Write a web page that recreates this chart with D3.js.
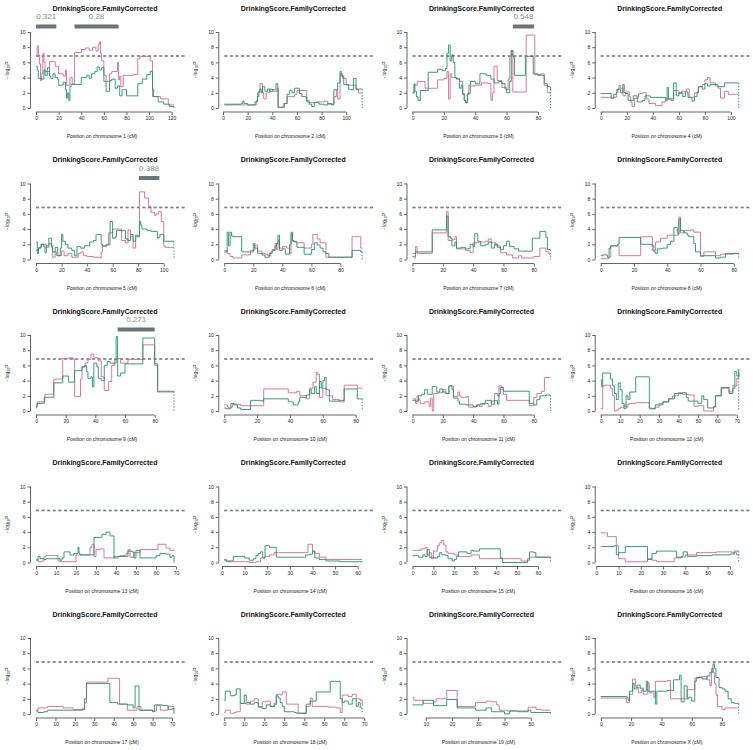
<!DOCTYPE html>
<html><head><meta charset="utf-8">
<script src="https://cdn.jsdelivr.net/npm/d3@7"></script>
<style>body{margin:0;background:#fff} svg{display:block}</style>
</head><body><svg id="c" width="753" height="750"></svg>
<script>
const chartTitle = "DrinkingScore.FamilyCorrected";
const chromosomes = ["1","2","3","4","5","6","7","8","9","10","11","12","13","14","15","16","17","18","19","X"];
const yTicks = [0,2,4,6,8,10];
const threshold = 6.84;
const xTicks = [
  [0,20,40,60,80,100,120],[0,20,40,60,80,100],[0,20,40,60,80],[0,20,40,60,80,100],
  [0,20,40,60,80,100],[0,20,40,60,80],[0,20,40,60,80],[0,20,40,60,80],
  [0,20,40,60,80],[0,20,40,60,80],[0,20,40,60,80],[0,10,20,30,40,50,60,70],
  [0,10,20,30,40,50,60,70],[0,10,20,30,40,50,60],[0,10,20,30,40,50,60],[0,10,20,30,40,50,60],
  [0,10,20,30,40,50,60,70],[0,10,20,30,40,50,60,70],[10,20,30,40,50],[0,20,40,60,80]
];
const supportBars = [
  {chr:"1", from:0, to:18, label:"0.321"},
  {chr:"1", from:34, to:73, label:"0.28"},
  {chr:"3", from:64, to:77.5, label:"0.548"},
  {chr:"5", from:80.5, to:96.5, label:"0.388"},
  {chr:"9", from:55, to:80, label:"0.271"}
];
const pinkSeries = [
 [[0,6.8],[1,8.2],[2,7.0],[3,5.8],[4,3.6],[5,4.5],[6,7.2],[7,6.0],[8,4.8],[12,6.1],[17,5.5],[20,4.5],[24,4.2],[26,5.0],[27,3.0],[30,4.0],[32,3.2],[34,7.3],[40,7.7],[44,7.9],[47,7.6],[50,8.0],[53,7.5],[55,8.3],[56,8.7],[57,7.2],[58,6.2],[60,4.3],[62,3.5],[65,4.5],[67,4.8],[72,6.0],[73,3.7],[74,4.2],[75,2.8],[77,4.3],[86,4.4],[90,6.5],[92,6.8],[101,6.2],[103,1.5],[110,1.2],[117,0.4],[122,0.4]],
 [[1,0.4],[27,1.0],[28,2.0],[30,3.2],[32,2.0],[33,1.2],[35,2.0],[38,2.5],[40,2.2],[44,2.6],[45,0.1],[49,0.6],[52,1.5],[58,1.8],[60,2.3],[68,1.0],[70,0.7],[75,0.8],[82,0.9],[85,0.5],[90,1.5],[92,2.3],[93,1.2],[95,4.5],[97,3.9],[100,3.0],[108,2.5],[110,2.0],[113,2.0]],
 [[0,2.0],[1,3.0],[3,3.5],[8,2.6],[16,3.7],[20,3.9],[22,4.8],[23,1.2],[24,4.5],[25,4.0],[28,3.9],[30,3.5],[32,1.9],[33,1.0],[34,0.7],[35,1.9],[37,2.9],[40,3.0],[44,3.3],[48,3.2],[50,1.0],[51,2.0],[52,5.5],[54,3.6],[57,2.7],[60,2.4],[61,3.8],[62,6.8],[63,7.5],[64,2.1],[72.5,9.6],[78,4.4],[82,4.5],[84,3.0],[86,2.0],[88,2.0]],
 [[0,1.4],[8,1.3],[10,1.4],[12,2.4],[14,3.0],[15,2.6],[17,1.6],[19,2.1],[22,1.5],[23,0.8],[24,0.2],[26,1.3],[29,1.9],[32,2.0],[35,1.2],[37,0.6],[42,0.3],[47,0.8],[50,1.2],[54,1.0],[56,2.3],[60,1.9],[62,2.2],[66,2.5],[68,1.4],[72,2.0],[75,2.8],[78,3.1],[80,3.7],[82,4.0],[84,3.3],[88,2.9],[90,2.6],[92,1.3],[95,2.2],[98,1.8],[106,1.8]],
 [[0,1.2],[2,1.6],[4,2.0],[8,1.6],[10,2.1],[12,1.8],[13,0.3],[15,1.0],[16,0.5],[20,1.1],[22,0.5],[25,0.8],[28,0.3],[33,0.8],[35,1.0],[37,0.5],[40,0.4],[45,0.3],[50,0.2],[51,1.0],[52,1.7],[55,1.9],[58,3.5],[60,4.0],[67,2.5],[70,2.2],[72,3.9],[74,3.0],[76,1.5],[78,3.0],[81,8.9],[85,8.1],[88,7.0],[90,6.2],[93,5.8],[94,6.0],[96,6.3],[98,5.0],[100,1.8],[101,1.6],[108,1.6]],
 [[0,1.2],[2,0.8],[4,0.4],[6,0.2],[12,0.6],[18,1.2],[21,1.9],[23,1.1],[26,0.8],[28,0.7],[30,0.5],[32,1.0],[33,1.3],[35,2.1],[36,1.3],[37,2.5],[38,1.5],[40,1.7],[43,1.5],[45,0.8],[46,3.4],[47,2.4],[50,2.2],[55,1.5],[60,2.0],[61,3.3],[64,2.7],[66,2.2],[70,0.3],[88,3.0],[94,1.5],[95,1.5]],
 [[0,0.8],[2,1.7],[3,0.8],[13,3.5],[22.5,6.3],[23.5,2.5],[26,2.6],[28,3.0],[29,1.4],[35,1.2],[38,0.9],[40,2.2],[43,2.3],[48,2.4],[50,2.7],[52,2.2],[55,1.8],[58,0.9],[62,0.6],[66,0.2],[70,0.5],[72,0.2],[80,0.4],[84,1.5],[88,1.0],[90,0.7],[91,0.7]],
 [[0,0.1],[5,0.3],[6,1.8],[9,1.8],[11,0.5],[24,3.0],[31,1.2],[33,2.3],[36,2.8],[40,3.2],[47,5.6],[48,3.5],[50,3.8],[54,3.9],[56,3.6],[60,0.4],[62,1.0],[69,0.5],[72,0.7],[80,0.8],[83,0.8]],
 [[0,0.6],[1,1.2],[6,2.2],[12,4.2],[18,6.9],[22,7.0],[25,6.8],[26,1.9],[30,4.2],[31,5.8],[33,6.3],[35,6.8],[37,7.5],[39,7.0],[42,6.6],[44,4.5],[46,2.7],[49,3.9],[51,6.0],[53,6.8],[55,6.9],[57,6.3],[62,6.8],[72,8.7],[80,6.0],[82,2.5],[93,2.5]],
 [[0,0.8],[2,0.5],[5,0.9],[10,0.7],[17,0.7],[24,2.9],[39,2.4],[44,2.6],[46,2.0],[50,1.6],[52,3.0],[54,3.8],[56,5.1],[57,4.8],[58,1.8],[60,3.0],[62,2.0],[66,1.5],[70,1.2],[73,3.4],[81,3.0],[84,3.0]],
 [[0,1.6],[2,1.0],[3,2.0],[4,1.5],[5,1.0],[8,1.2],[11,0.6],[12,1.7],[13,0.0],[14,2.3],[17,2.4],[20,2.8],[22,2.3],[24,3.3],[27,1.9],[30,2.5],[31,2.0],[32,1.8],[36,1.9],[37,0.5],[42,0.8],[44,0.6],[46,0.9],[48,1.0],[50,0.6],[52,1.3],[54,2.3],[56,2.0],[57,3.3],[59,2.8],[60,2.2],[62,1.4],[77,0.7],[80,1.8],[82,2.3],[85,2.6],[87,4.4],[91,4.4]],
 [[0,0.3],[1,3.3],[2,3.4],[5,3.0],[6,2.0],[7,0.0],[8,0.1],[9,0.3],[10,0.5],[12,0.8],[13,0.5],[14,0.9],[15,1.0],[18,1.1],[25,0.3],[28,0.5],[30,1.0],[32,1.2],[35,1.6],[37,2.0],[40,2.4],[42,2.2],[45,2.1],[48,0.6],[50,0.7],[53,0.0],[55,0.0],[58,0.6],[59,2.0],[62,3.0],[66,2.5],[68,3.3],[70,4.3],[71,5.0]],
 [[0,0.4],[1,0.1],[3,0.2],[4,0.8],[5,0.9],[11,0.2],[12,0.1],[18,0.1],[20,1.0],[27,2.0],[28,2.4],[29,0.8],[30,1.7],[32,1.8],[34,0.6],[39,0.8],[42,0.9],[45,1.2],[46,1.7],[47,0.7],[49,1.3],[52,1.7],[61,2.4],[65,1.9],[67,1.6],[69,1.7]],
 [[1,0.4],[2,0.1],[12,0.0],[15,0.1],[17,0.6],[19,0.8],[21,1.0],[23,1.3],[37,1.3],[38,2.4],[40,1.5],[41,1.2],[43,0.7],[46,0.4],[62,0.4]],
 [[0,1.6],[4,1.8],[6,2.0],[7,1.0],[8,1.3],[9,0.5],[10,1.5],[12,2.2],[13,2.6],[14,2.9],[15,2.3],[16,1.4],[17,1.2],[20,1.0],[22,0.8],[28,1.0],[32,0.5],[43,0.5],[52,0.2],[55,0.5],[56,0.7],[66,0.7]],
 [[2,3.9],[5,3.4],[9,2.2],[10,0.5],[13,0.1],[23,0.5],[25,0.3],[27,0.1],[35,0.6],[38,0.7],[40,1.0],[45,1.3],[54,1.4],[61,1.3],[63,1.0],[64,1.0]],
 [[0,0.5],[1,0.8],[6,1.0],[14,0.8],[19,0.6],[24,0.7],[25,1.5],[26,4.2],[37,4.7],[43,1.3],[47,0.5],[52,1.0],[54,0.5],[60,0.4],[62,1.1],[64,0.5],[68,1.0],[70,1.0],[71,0.5]],
 [[0,0.2],[0.5,0.5],[3,0.1],[5,0.2],[6,0.3],[8,1.4],[11,1.3],[13,1.7],[15,2.0],[17,1.0],[19,1.6],[21,1.7],[23,1.0],[25,1.4],[26,2.6],[28,2.5],[29,2.9],[31,1.3],[37,0.1],[41,1.0],[43,2.1],[44,1.0],[52,0.9],[56,0.8],[58,0.2],[59,2.5],[62,2.3],[64,2.6],[66,2.0],[68,1.8],[69,1.0]],
 [[5,2.2],[5.5,1.8],[9,1.4],[13,1.6],[14,2.0],[18,3.1],[22,1.0],[29,1.5],[33,1.7],[35,1.6],[37,1.2],[38,0.5],[41,0.4],[49,0.9],[52,0.6],[54,0.5],[57.5,0.5]],
 [[0,2.1],[17,1.5],[19,2.6],[21,4.6],[23,3.5],[25,2.8],[27,3.2],[28,2.6],[31,4.1],[32,2.8],[35,2.2],[36,4.3],[44,4.4],[46,2.0],[57,3.2],[62,4.7],[65,4.9],[70,4.5],[72,3.7],[73,6.0],[74,5.5],[75,4.0],[76,2.5],[77,1.0],[80,0.6],[82,0.8],[88,0.8],[91,0.8]]
];
const greenSeries = [
 [[0,5.5],[1,5.0],[2,3.9],[5,3.8],[7,5.0],[8,4.3],[10,5.3],[12,4.2],[13,3.9],[15,4.5],[17,4.0],[19,3.8],[20,3.0],[24,3.4],[26,2.4],[27,1.3],[28,2.0],[29,1.0],[30,2.8],[31,3.1],[40,4.0],[45,4.3],[47,3.9],[49,4.5],[52,4.8],[54,5.4],[56,5.0],[58,5.3],[60,3.5],[62,2.2],[65,3.6],[67,3.8],[70,2.6],[72,2.9],[74,1.6],[76,2.4],[80,1.6],[90,3.2],[94,3.8],[98,4.4],[101,4.8],[103,2.5],[104,1.5],[108,0.8],[113,0.5],[118,0.2],[122,0.2]],
 [[1,0.5],[15,0.6],[16,0.9],[17,0.6],[20,0.4],[26,0.8],[28,1.5],[29,2.2],[30,2.5],[31,2.0],[32,2.8],[34,2.2],[36,2.5],[38,2.2],[40,2.4],[43,3.2],[44.5,0.1],[50,0.6],[52,1.8],[54,2.3],[56,2.0],[58,2.6],[62,1.9],[64,1.5],[67,1.4],[68,0.8],[70,0.5],[72,0.2],[74,0.7],[78,0.5],[82,0.4],[85,0.6],[88,0.4],[90,2.4],[93,3.3],[95,4.8],[96,4.2],[98,3.1],[102,2.4],[106,3.9],[108,2.4],[110,2.5],[113,2.5]],
 [[0,2.0],[1,3.2],[1.5,2.2],[2.5,1.5],[3.5,1.0],[5,2.3],[10,4.7],[16,5.1],[19,4.9],[21,5.2],[22,7.2],[23,8.3],[24,6.2],[25,7.0],[26,6.0],[27,4.0],[28,3.8],[30,2.6],[31,3.0],[32,1.8],[33,1.0],[34,0.7],[35,1.8],[36,3.0],[37,3.5],[40,3.2],[43,4.5],[47,4.3],[50,3.8],[52,3.3],[55,3.5],[57,3.2],[59,2.5],[60,2.0],[62,3.5],[63,7.6],[64,6.8],[65,4.3],[72,6.8],[77,4.5],[80,4.3],[84,3.2],[86,2.8],[88,2.5]],
 [[0,1.9],[8,1.3],[10,1.8],[12,2.0],[13,2.5],[15,2.0],[17,3.1],[18,2.0],[19,1.9],[21,1.0],[25,1.6],[28,0.8],[32,1.0],[34,1.6],[38,1.4],[50,1.0],[51,2.7],[52,1.2],[56,3.3],[58,1.6],[60,2.0],[63,1.5],[65,2.1],[67,1.4],[70,0.9],[72,1.5],[74,2.1],[75,2.8],[78,2.5],[80,3.2],[82,2.9],[84,3.1],[90,2.8],[95,3.3],[106,3.3]],
 [[0,2.3],[1,0.8],[2,1.5],[4,2.0],[6,1.7],[7,0.9],[8,1.8],[10,2.8],[12,1.6],[13,1.0],[15,1.6],[17,0.5],[19,1.5],[20,3.3],[21,2.4],[23,2.0],[25,1.5],[28,1.2],[30,0.5],[32,1.7],[35,1.5],[38,1.8],[42,2.3],[45,2.5],[47,3.3],[51,2.0],[52,1.8],[55,2.0],[57,3.5],[58,5.0],[60,2.8],[62,3.0],[63,3.8],[70,2.7],[72,2.5],[74,3.3],[76,2.4],[78,3.2],[80,3.0],[81,5.0],[82,4.5],[83,4.0],[87,3.8],[90,3.7],[95,2.8],[96,2.9],[97,3.3],[100,2.4],[108,2.4]],
 [[0,1.0],[2,3.6],[3,1.8],[4,3.6],[5,3.1],[6,3.0],[12,1.0],[18,1.0],[20,2.1],[21,1.5],[23,0.8],[26,0.6],[28,0.3],[31,0.8],[33,1.2],[35,1.8],[36,2.1],[37,3.2],[38,1.2],[40,1.4],[42,0.7],[45,2.0],[46,3.6],[47,2.5],[48,2.3],[50,1.6],[55,0.7],[60,1.3],[62,2.2],[64,1.9],[66,1.5],[68,1.0],[70,0.8],[72,0.3],[88,1.2],[94,1.0],[95,1.0]],
 [[0,0.4],[1,0.3],[2,1.0],[13,3.9],[22.5,5.7],[23.5,3.0],[25,2.8],[26,1.8],[28,2.3],[29,1.5],[32,1.6],[35,1.4],[38,2.0],[40,1.7],[41,3.4],[43,2.4],[45,1.8],[48,2.0],[50,2.3],[52,1.5],[54,2.0],[56,1.6],[58,1.3],[60,1.8],[62,2.4],[64,1.7],[67,1.4],[70,1.1],[79,2.8],[84,3.7],[88,2.9],[89,1.3],[91,1.3]],
 [[0,0.5],[1,0.6],[4,0.3],[5,1.5],[6,1.8],[10,2.0],[11,2.9],[24,2.0],[31,1.8],[32,1.0],[33,0.8],[34,1.4],[37,1.5],[40,2.0],[42,2.4],[44,4.2],[46,3.4],[47,5.3],[48,3.8],[50,3.5],[52,3.2],[53,3.0],[56,2.1],[57,1.0],[60,0.5],[69,0.2],[72,0.3],[75,0.8],[83,0.8]],
 [[0,0.4],[0.5,1.0],[5.5,1.8],[12,3.7],[18,4.6],[22,3.8],[26,5.3],[31,5.8],[33,6.0],[34,5.2],[35,4.3],[37,4.5],[38,3.2],[39,6.3],[41,5.8],[42,4.3],[44,4.0],[46,6.0],[48,6.5],[50,6.3],[54,9.8],[55,4.6],[57,5.0],[60,6.2],[72,9.6],[80,6.2],[82,2.6],[93,2.6]],
 [[0,0.4],[1,0.3],[4,1.0],[6,0.8],[8,0.4],[10,0.2],[16,1.4],[23,1.3],[24,1.6],[39,1.2],[42,0.8],[45,1.2],[46,1.8],[50,2.1],[52,2.8],[53,2.3],[55,3.2],[56,2.3],[58,3.9],[59,3.0],[60,4.0],[61,4.4],[62,2.8],[64,1.3],[70,1.4],[73,2.9],[81,1.6],[84,1.6]],
 [[0,1.4],[2,1.3],[4,2.0],[6,2.2],[8,2.8],[10,2.2],[13,3.2],[16,2.5],[18,2.9],[20,2.5],[22,2.3],[24,3.3],[26,2.8],[27,1.7],[30,1.3],[31,0.9],[35,0.8],[40,0.6],[43,0.8],[45,1.0],[48,1.4],[52,0.9],[54,1.4],[56,0.9],[57,2.3],[58,3.1],[60,2.6],[77,1.0],[80,0.8],[82,1.5],[84,2.0],[88,2.1],[91,2.1]],
 [[0,4.1],[0.5,3.2],[1,5.0],[5,4.2],[6,3.3],[7,2.3],[8,1.5],[9,3.7],[10,2.8],[11,1.0],[12,0.3],[13,2.0],[14,1.5],[15,2.5],[18,4.5],[25,0.4],[26,0.3],[28,0.8],[32,1.2],[35,1.6],[38,2.3],[42,2.4],[44,1.8],[45,1.3],[50,1.0],[52,2.0],[53,1.5],[55,0.4],[58,0.5],[59,2.0],[62,3.1],[66,2.3],[68,3.0],[69,5.2],[70,4.6],[71,5.5]],
 [[0,0.3],[1,0.8],[2,0.5],[4,0.4],[5,0.5],[12,0.3],[13,0.6],[14,1.4],[17,1.0],[19,1.2],[21,2.0],[21.5,1.2],[22,1.0],[27,1.0],[29,3.3],[33,3.7],[35,4.0],[37,3.5],[39,0.6],[41,0.8],[45,0.8],[46,1.5],[48,1.4],[49,0.6],[50,1.6],[52,0.6],[60,0.9],[62,1.2],[65,1.1],[67,0.7],[68,0.9],[69,0.1]],
 [[1,0.3],[2,0.2],[5,0.8],[10,0.6],[12,0.3],[14,0.5],[15,0.9],[16,1.2],[17,1.4],[18,0.6],[19,2.2],[21,2.0],[24,0.7],[37,1.0],[39,1.1],[40,1.5],[41,0.6],[43,0.4],[46,0.2],[52,0.1],[62,0.1]],
 [[0,0.9],[3,0.7],[5,1.0],[6,0.8],[7,1.7],[8,0.7],[10,0.6],[12,0.8],[13,1.3],[14,1.0],[16,0.9],[17,0.5],[19,0.2],[20,0.4],[21,0.8],[22,1.4],[26,1.2],[28,1.6],[29,1.5],[32,1.8],[42,0.6],[43,0.0],[52,0.0],[55,0.3],[56,1.4],[58,1.3],[59,0.7],[66,0.7]],
 [[2,2.1],[8,2.2],[9,1.0],[10,1.3],[13,2.1],[23,0.4],[25,1.2],[27,1.5],[36,0.7],[38,0.8],[39,1.4],[41,0.8],[45,0.9],[52,1.0],[60,1.1],[62,1.5],[64,1.5]],
 [[0,0.4],[1,0.2],[4,0.3],[6,0.5],[19,0.5],[24,0.6],[25,2.0],[26,4.0],[38,1.5],[42,1.3],[47,1.2],[50,0.8],[51,3.7],[53,0.5],[60,0.3],[61,1.2],[65,1.1],[68,0.6],[70,0.7],[71,0.1]],
 [[0,1.8],[0.5,3.0],[3,2.4],[5,2.5],[6,3.3],[8,1.4],[10,2.5],[11,1.5],[13,1.3],[15,1.5],[17,0.9],[19,0.7],[21,1.2],[23,1.0],[25,1.2],[26,2.4],[27,2.1],[28,1.5],[29,1.0],[30,0.3],[35,0.2],[36,0.1],[41,1.3],[43,1.7],[46,2.9],[53,4.3],[58,2.0],[59,1.5],[60,1.7],[62,1.3],[64,2.0],[66,1.0],[67,1.5],[68,0.8],[69,0.8]],
 [[5,1.2],[9,1.8],[13,1.1],[18,1.9],[22,0.8],[29,0.5],[33,0.8],[35,0.3],[40,0.0],[42,0.4],[45,0.3],[49,0.5],[50,0.2],[57.5,0.1]],
 [[0,2.3],[17,2.2],[18,1.8],[19,3.0],[21,4.0],[22,3.3],[24,3.8],[26,3.4],[28,3.0],[30,4.3],[31,3.0],[36,1.3],[37,3.0],[44,3.1],[48,4.5],[52,5.1],[53,1.6],[55,3.7],[57,2.0],[58,2.2],[60,1.7],[62,4.3],[63,4.8],[67,4.6],[70,5.0],[72,5.5],[74,6.6],[75,6.0],[76,4.8],[78,3.5],[80,3.3],[82,3.0],[84,2.0],[86,1.5],[88,1.4],[91,1.4]]
];

const pinkColor = "#cf6a98", greenColor = "#23926a";
const svg = d3.select("#c");
const colStep = 188.25, rowStep = 151.5;
const plotL = 30.5, plotR = 179.5;
const font = "'Liberation Sans', Arial, Helvetica, sans-serif";
const y = d3.scaleLinear().domain([0,10]).range([108,32]);

chromosomes.forEach((chr, i) => {
  const g = svg.append("g").attr("transform", `translate(${(i%4)*colStep},${Math.floor(i/4)*rowStep})`);
  const pink = pinkSeries[i], green = greenSeries[i];
  const all = pink.concat(green);
  const xmin = d3.min(all, d => d[0]), xmax = d3.max(all, d => d[0]);
  const span = xmax - xmin;
  const x = d3.scaleLinear().domain([xmin - 0.04*span, xmax + 0.04*span]).range([plotL, plotR]);
  const ticks = xTicks[i];

  g.append("text").attr("x", 105).attr("y", 10.5).attr("text-anchor","middle")
    .attr("font-family", font).attr("font-weight","bold").attr("font-size", 7).attr("fill","#111")
    .text(chartTitle);

  const ya = g.append("g").attr("transform", `translate(${plotL},0)`)
    .call(d3.axisLeft(y).tickValues(yTicks).tickSize(3).tickSizeOuter(0).tickPadding(2));
  ya.select(".domain").remove();
  ya.append("line").attr("y1", y(0)).attr("y2", y(10)).attr("stroke","#555").attr("stroke-width",0.9);
  ya.selectAll(".tick line").attr("stroke","#555").attr("stroke-width",0.9);
  ya.selectAll(".tick text").attr("font-family", font).attr("font-size", 5).attr("fill","#222");

  const xa = g.append("g").attr("transform", `translate(0,112)`)
    .call(d3.axisBottom(x).tickValues(ticks).tickSize(3).tickSizeOuter(0).tickPadding(1.5));
  xa.select(".domain").remove();
  xa.append("line").attr("x1", x(ticks[0])).attr("x2", x(ticks[ticks.length-1])).attr("stroke","#555").attr("stroke-width",0.9);
  xa.selectAll(".tick line").attr("stroke","#555").attr("stroke-width",0.9);
  xa.selectAll(".tick text").attr("font-family", font).attr("font-size", 5).attr("fill","#222");

  const yl = g.append("text").attr("transform", `translate(9,70) rotate(-90)`).attr("text-anchor","middle")
    .attr("font-family", font).attr("font-size", 5).attr("fill","#222");
  yl.append("tspan").text("- log");
  yl.append("tspan").attr("font-size", 3.6).attr("dy", 1.2).text("10");
  yl.append("tspan").attr("dy", -1.2).text("P");
  g.append("text").attr("x", 102).attr("y", 138).attr("text-anchor","middle")
    .attr("font-family", font).attr("font-size", 5).attr("fill","#222")
    .text(`Position on chromosome ${chr} (cM)`);

  // threshold: two coincident dashed lines (one per series)
  const tx1 = x(xmin), tx2 = x(xmin) + 1.087*(x(xmax) - x(xmin));
  g.append("line").attr("x1", tx1).attr("x2", tx2).attr("y1", y(threshold)).attr("y2", y(threshold))
    .attr("stroke", pinkColor).attr("stroke-width", 1.5).attr("stroke-dasharray","3,2.6");
  g.append("line").attr("x1", tx1).attr("x2", tx2).attr("y1", y(threshold)).attr("y2", y(threshold))
    .attr("stroke", greenColor).attr("stroke-width", 1.5).attr("stroke-dasharray","3,2.6").attr("opacity",0.45);

  const line = d3.line().x(d => x(d[0])).y(d => y(d[1])).curve(d3.curveStepAfter);
  g.append("path").datum(pink).attr("d", line).attr("fill","none").attr("stroke", pinkColor).attr("stroke-width", 0.9);
  g.append("path").datum(green).attr("d", line).attr("fill","none").attr("stroke", greenColor).attr("stroke-width", 0.9);

  const last = green[green.length-1];
  g.append("line").attr("x1", x(last[0])).attr("x2", x(last[0])).attr("y1", y(last[1])).attr("y2", y(0))
    .attr("stroke", greenColor).attr("stroke-width", 0.9).attr("stroke-dasharray","1.5,1.5");

  supportBars.filter(b => b.chr === chr).forEach(b => {
    g.append("rect").attr("x", x(b.from)).attr("width", x(b.to) - x(b.from)).attr("y", 24.5).attr("height", 4)
      .attr("fill", "#6d7478");
    g.append("text").attr("x", (x(b.from) + x(b.to))/2).attr("y", 19).attr("text-anchor","middle")
      .attr("font-family", font).attr("font-size", 8).attr("fill", "#8a8a8a").text(b.label);
  });
});
</script></body></html>
